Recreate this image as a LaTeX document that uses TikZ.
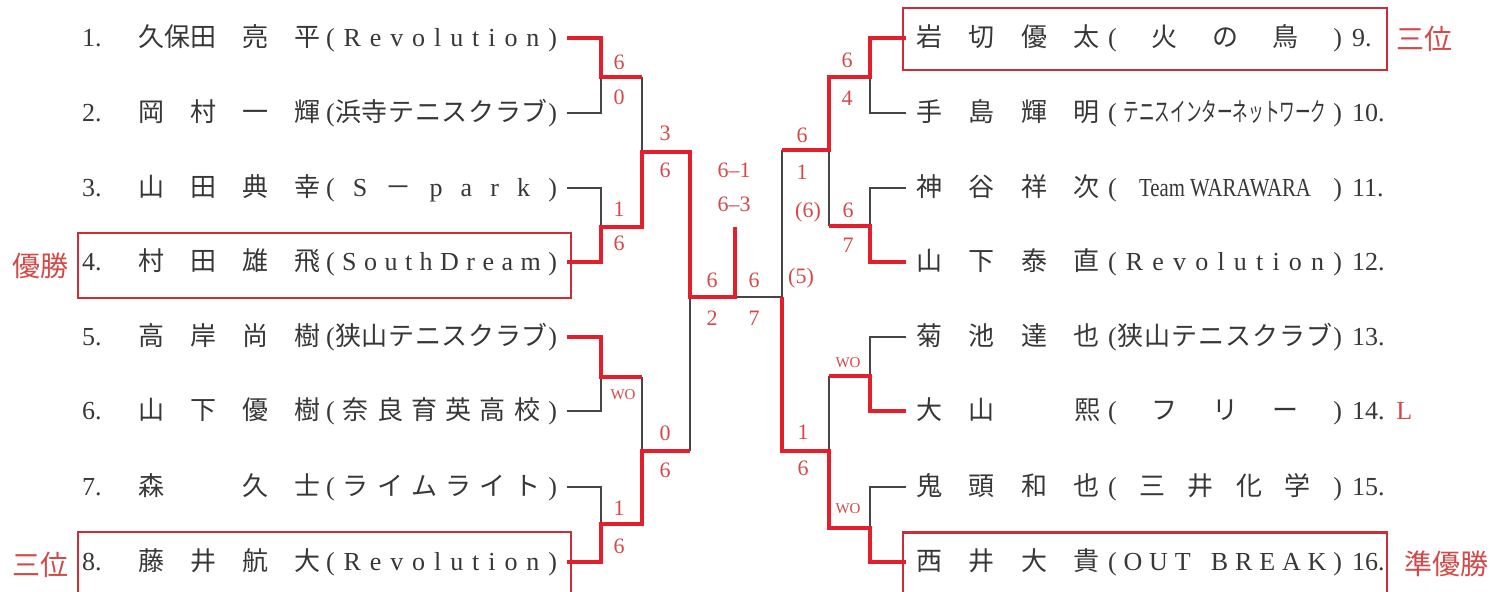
\documentclass[tikz,border=0pt]{standalone}
\usepackage{fontspec}
\setmainfont{Liberation Serif}
\newfontfamily\jp{Noto Sans CJK JP}
\usetikzlibrary{positioning}

\definecolor{winred}{RGB}{228,30,42}
\definecolor{boxred}{RGB}{205,45,55}
\definecolor{scorered}{RGB}{212,72,72}
\definecolor{linegray}{RGB}{70,70,70}
\definecolor{inkgray}{RGB}{55,55,55}

% club names are spread over a fixed width, one character at a time
\newlength{\clubwd}
\def\sprchar#1{\ifnum`#1>"2000 {\jp#1}\else{#1}\fi}
\def\sprloop#1{\ifx\relax#1\else\hfil\sprchar{#1}\expandafter\sprloop\fi}
\def\sprfirst#1{\sprchar{#1}\sprloop}
\newcommand{\club}[1]{\makebox[\clubwd][s]{\sprfirst#1\relax}}
\newcommand{\narrowclub}[2]{\makebox[\clubwd][s]{(\hfil\scalebox{#1}[1]{#2}\hfil)}}
% left: number, name, club -- right: name, club, number
\newcommand{\lrow}[3]{\setlength{\clubwd}{115.5pt}\makebox[28pt][l]{#1}\makebox[91pt][s]{\jp #2}\hspace{3pt}#3}
\newcommand{\rrow}[3]{\setlength{\clubwd}{117pt}\makebox[92pt][s]{\jp #1}\hspace{4pt}#2\hspace{5pt}\makebox[17pt][l]{#3}}

\begin{document}
\begin{tikzpicture}[x=0.5pt, y=-0.5pt,
    row/.style={inner sep=0pt, outer xsep=5pt, text=inkgray, font=\fontsize{13}{15}\selectfont},
    winbox/.style={draw=boxred, line width=1.2pt, inner sep=0pt, minimum width=246.5pt, minimum height=32.5pt},
    win/.style={draw=winred, line width=2.2pt},
    lose/.style={draw=linegray, line width=0.7pt},
    score/.style={text=scorered, inner sep=0pt, font=\fontsize{11}{13}\selectfont},
    wo/.style={text=scorered, inner sep=0pt, font=\fontsize{7.5}{9}\selectfont},
    tag/.style={text=scorered, inner sep=0pt, font=\jp\fontsize{14}{16}\selectfont}]

    \useasboundingbox (0,0) rectangle (1491,592);

    % players
    \node[row, anchor=east] (l1) at (567,38)  {\lrow{1.}{久保田\hfil 亮\hfil 平}{\club{(Revolution)}}};
    \node[row, anchor=east] (l2) at (567,113) {\lrow{2.}{岡\hfil 村\hfil 一\hfil 輝}{\club{(浜寺テニスクラブ)}}};
    \node[row, anchor=east] (l3) at (567,188) {\lrow{3.}{山\hfil 田\hfil 典\hfil 幸}{\club{(S－park)}}};
    \node[row, anchor=east] (l4) at (567,262) {\lrow{4.}{村\hfil 田\hfil 雄\hfil 飛}{\club{(SouthDream)}}};
    \node[row, anchor=east] (l5) at (567,337) {\lrow{5.}{高\hfil 岸\hfil 尚\hfil 樹}{\club{(狭山テニスクラブ)}}};
    \node[row, anchor=east] (l6) at (567,411) {\lrow{6.}{山\hfil 下\hfil 優\hfil 樹}{\club{(奈良育英高校)}}};
    \node[row, anchor=east] (l7) at (567,487) {\lrow{7.}{森\hfil\phantom{一}\hfil 久\hfil 士}{\club{(ライムライト)}}};
    \node[row, anchor=east] (l8) at (567,562) {\lrow{8.}{藤\hfil 井\hfil 航\hfil 大}{\club{(Revolution)}}};

    \node[row, anchor=west] (r9)  at (906,38)  {\rrow{岩\hfil 切\hfil 優\hfil 太}{\club{(火の鳥)}}{9.}};
    \node[row, anchor=west] (r10) at (906,113) {\rrow{手\hfil 島\hfil 輝\hfil 明}{\narrowclub{.6}{\jp テニスインターネットワーク}}{10.}};
    \node[row, anchor=west] (r11) at (906,188) {\rrow{神\hfil 谷\hfil 祥\hfil 次}{\narrowclub{.8}{Team WARAWARA}}{11.}};
    \node[row, anchor=west] (r12) at (906,262) {\rrow{山\hfil 下\hfil 泰\hfil 直}{\club{(Revolution)}}{12.}};
    \node[row, anchor=west] (r13) at (906,337) {\rrow{菊\hfil 池\hfil 達\hfil 也}{\club{(狭山テニスクラブ)}}{13.}};
    \node[row, anchor=west] (r14) at (906,411) {\rrow{大\hfil 山\hfil\phantom{一}\hfil 熙}{\club{(フリー)}}{14.}};
    \node[row, anchor=west] (r15) at (906,487) {\rrow{鬼\hfil 頭\hfil 和\hfil 也}{\club{(三井化学)}}{15.}};
    \node[row, anchor=west] (r16) at (906,562) {\rrow{西\hfil 井\hfil 大\hfil 貴}{\club{(OUT~BREAK)}}{16.}};

    % boxes and places
    \node[winbox] (w4) at (324.5,265.5) {};
    \node[winbox] (w8) at (324.5,564.5) {};
    \node[winbox, minimum width=242pt, minimum height=31pt] (w9) at (1145,39) {};
    \node[winbox, minimum width=242pt, minimum height=31pt] (w16) at (1145,563.5) {};
    \node[tag, left=4pt of w4] (t4) {優勝};
    \node[tag, left=4pt of w8] (t8) {三位};
    \node[tag, right=4pt of w9] (t9) {三位};
    \node[tag, right=8pt of w16] (t16) {準優勝};
    \node[tag, font=\fontsize{13}{15}\selectfont, right=0pt of r14] (t14) {L};

    % junctions
    \coordinate (j1) at (601,77);
    \coordinate (j2) at (601,227);
    \coordinate (j3) at (601,377);
    \coordinate (j4) at (601,524);
    \coordinate (k1) at (642,152);
    \coordinate (k2) at (642,451);
    \coordinate (f1) at (690,297);
    \coordinate (c0) at (735,297);
    \coordinate (c1) at (735,227);
    \coordinate (f2) at (782,297);
    \coordinate (k3) at (829,150);
    \coordinate (k4) at (829,451);
    \coordinate (j5) at (870,77);
    \coordinate (j6) at (870,226);
    \coordinate (j7) at (870,376);
    \coordinate (j8) at (870,528);

    % lost
    \draw[lose] (l2.east) -| (j1);
    \draw[lose] (l3.east) -| (j2);
    \draw[lose] (l6.east) -| (j3);
    \draw[lose] (l7.east) -| (j4);
    \draw[lose] (j1 -| k1) -- (k1);
    \draw[lose] (j3 -| k2) -- (k2);
    \draw[lose] (f1) -- (k2 -| f1);
    \draw[lose] (c0) -- (f2) -- (k3 -| f2);
    \draw[lose] (r10.west) -| (j5);
    \draw[lose] (r11.west) -| (j6);
    \draw[lose] (r13.west) -| (j7);
    \draw[lose] (r15.west) -| (j8);
    \draw[lose] (k3) -- (j6 -| k3);
    \draw[lose] (k4) -- (j7 -| k4);

    % won
    \draw[win] (l1.east) -| (j1) -- (j1 -| k1);
    \draw[win] (l4.east) -| (j2) -- (j2 -| k1) -- (k1) -- (k1 -| f1) -- (f1) -- (c0) -- (c1);
    \draw[win] (l5.east) -| (j3) -- (j3 -| k2);
    \draw[win] (l8.east) -| (j4) -- (j4 -| k2) -- (k2) -- (k2 -| f1);
    \draw[win] (r9.west) -| (j5) -- (j5 -| k3) -- (k3) -- (k3 -| f2);
    \draw[win] (r12.west) -| (j6) -- (j6 -| k3);
    \draw[win] (r14.west) -| (j7) -- (j7 -| k4);
    \draw[win] (r16.west) -| (j8) -- (j8 -| k4) -- (k4) -- (k4 -| f2) -- (f2);

    % scores
    \foreach \s/\x/\y [count=\k] in {6/619/62, 0/619/97, 3/665/133, 6/665/170, 1/619/209, 6/619/243,
        0/665/433, 6/665/470, 1/619/508, 6/619/546, 6--1/734/170, 6--3/734/204,
        6/712/280, 2/712/318, 6/754/280, 7/754/318, 6/847/60, 4/847/98, 6/802/135, 1/802/172,
        {(6)}/808/212, 6/848/210, 7/848/245, {(5)}/801/278, 1/803/432, 6/803/468}
        \node[score] (sc\k) at (\x,\y) {\s};
    \foreach \x/\y [count=\k] in {623/395, 848/363, 848/509}
        \node[wo] (wo\k) at (\x,\y) {WO};
\end{tikzpicture}
\end{document}
